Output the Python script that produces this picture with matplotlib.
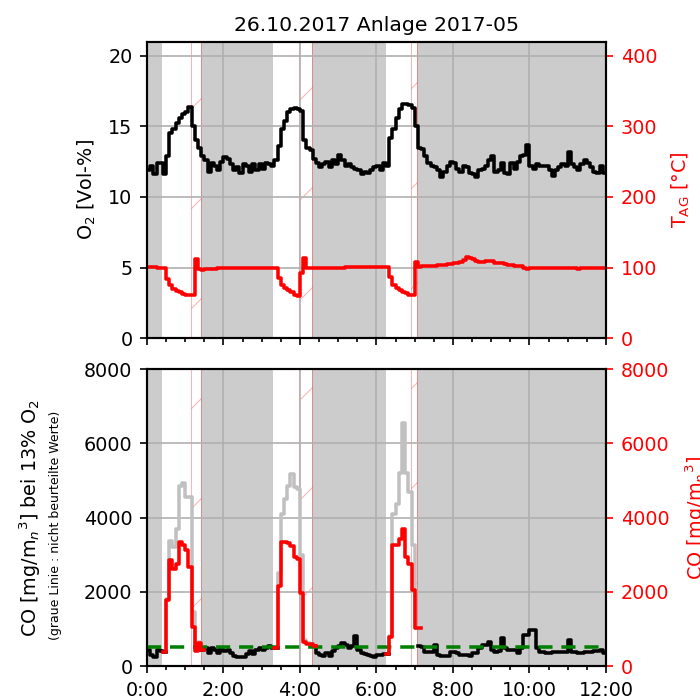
import numpy as np
import matplotlib
matplotlib.use("Agg")
import matplotlib.pyplot as plt
from matplotlib.ticker import MultipleLocator

# The figure is built small at 300 dpi so the sparse hatching matches
DPI = 300
nan = np.nan

TITLE = "26.10.2017 Anlage 2017-05"
STEP_MIN = 5  # sample interval in minutes
HOUR_TICKS = [0, 2, 4, 6, 8, 10, 12]
HOUR_LABELS = ["0:00", "2:00", "4:00", "6:00", "8:00", "10:00", "12:00"]

# operating phases in hours (grey = normal burn, hatched = transition)
BURN_PHASES = [(0.0, 0.40), (1.40, 3.30), (4.31, 6.24), (7.07, 12.0)]
TRANSITION_PHASES = [(1.14, 1.40), (3.97, 4.31), (6.89, 7.07)]
CO_LIMIT = 500

# O2 [Vol-%], one row per hour (5 min samples)
o2 = [
    11.9, 12.2, 11.6, 12.4, 12.4, 11.6, 12.9, 14.5, 14.8, 15.2, 15.6, 15.9,
    16.0, 16.4, 15.0, 14.0, 13.5, 12.9, 12.6, 11.8, 12.4, 12.2, 11.9, 12.5,
    12.8, 12.7, 12.3, 11.9, 12.1, 11.7, 12.3, 12.2, 11.8, 12.3, 11.9, 12.3,
    12.0, 12.4, 12.3, 12.2, 12.6, 13.6, 14.8, 15.4, 16.0, 16.2, 16.3, 16.2,
    16.1, 14.0, 13.5, 13.3, 12.7, 12.4, 12.1, 12.3, 12.5, 12.1, 12.6, 12.3,
    13.0, 12.6, 12.2, 12.3, 12.1, 12.0, 11.9, 11.6, 11.8, 11.7, 11.9, 12.1,
    12.2, 11.9, 12.4, 12.2, 14.2, 14.8, 15.6, 16.2, 16.6, 16.6, 16.5, 16.3,
    15.0, 13.5, 13.4, 12.9, 12.4, 12.2, 12.1, 11.9, 11.4, 11.8, 12.2, 12.5,
    12.4, 12.0, 11.8, 12.2, 12.1, 11.7, 11.6, 11.4, 11.9, 12.0, 12.2, 12.6,
    12.9, 11.8, 11.9, 12.4, 11.7, 11.6, 12.4, 12.0, 12.5, 12.9, 13.0, 13.7,
    12.2, 12.0, 12.3, 12.2, 12.2, 12.2, 11.9, 11.5, 11.9, 12.1, 12.3, 12.2,
    13.2, 12.3, 12.1, 11.9, 12.3, 12.6, 12.4, 12.1, 11.8, 11.7, 12.2, 11.7,
    11.7,
]

# flue gas temperature T_AG [°C]
t_ag = [
    101, 101, 101, 100, 100, 100, 84, 75, 70, 67, 65, 63,
    62, 61, 61, 112, 98, 97, 98, 98, 98, 98, 99, 99,
    99, 99, 99, 100, 100, 100, 100, 100, 100, 100, 100, 100,
    100, 100, 100, 100, 100, 85, 76, 71, 68, 65, 62, 60,
    92, 114, 99, 99, 99, 99, 100, 100, 100, 100, 100, 100,
    100, 100, 101, 101, 101, 101, 101, 101, 101, 101, 101, 101,
    101, 101, 101, 101, 87, 76, 71, 68, 66, 64, 62, 61,
    108, 101, 102, 102, 103, 103, 103, 104, 104, 104, 105, 105,
    106, 106, 108, 111, 115, 114, 112, 109, 108, 108, 109, 110,
    109, 107, 106, 106, 105, 104, 104, 103, 103, 102, 100, 98,
    99, 99, 99, 99, 99, 99, 99, 99, 99, 100, 99, 99,
    99, 99, 99, 98, 99, 99, 99, 99, 99, 99, 100, 100,
    100,
]

# CO at 13% O2 during normal operation (start phases left empty)
co = [
    440, 300, 240, 420, 400, 390, nan, nan, nan, nan, nan, nan,
    nan, nan, nan, nan, nan, 440, 480, 350, 480, 440, 350, 480,
    400, 440, 350, 260, 230, 230, 230, 330, 400, 310, 420, 480,
    440, 480, 530, 480, 480, nan, nan, nan, nan, nan, nan, nan,
    nan, nan, nan, nan, 530, 350, 300, 260, 350, 260, 400, 480,
    530, 620, 570, 480, 530, 800, 440, 350, 310, 300, 280, 250,
    300, 300, 310, 310, nan, nan, nan, nan, nan, nan, nan, nan,
    nan, 530, 520, 390, 390, 390, 570, 300, 260, 260, 260, 390,
    390, 350, 300, 300, 300, 260, 350, 350, 480, 570, 570, 660,
    440, 390, 400, 750, 480, 440, 440, 440, 350, 480, 840, 840,
    970, 970, 480, 390, 390, 350, 350, 390, 390, 390, 390, 390,
    705, 390, 390, 350, 350, 390, 390, 390, 400, 400, 420, 350,
    350,
]

# start phases: first sample index and CO values
start_idx = [5, 40, 75]
co_raw = [  # CO [mg/m3] (right axis, red)
    [390, 1780, 2850, 2620, 2760, 3340, 3250, 3115, 2670, 1064, 395, 617, 440],
    [480, 2150, 3330, 3330, 3300, 3230, 2930, 2890, 1955, 640, 600, 580, 530],
    [310, 790, 3250, 3250, 3430, 3690, 2930, 2750, 2040, 1020, 1020],
]
co_unrated = [  # CO at 13% O2, not assessed (grey)
    [390, 1800, 3380, 3200, 3700, 4850, 4940, 4540, 4540, 1460, 420, 650, 440],
    [480, 2500, 4090, 4500, 4850, 5160, 4810, 4780, 3000, 700, 620, 590, 530],
    [310, 800, 4090, 4360, 5190, 6550, 5200, 4700, 3250, 1020, 1020],
]

n = len(o2)
t = np.arange(n) * STEP_MIN / 60.0
co_red = np.full(n, nan)
co_grey = np.full(n, nan)
for i0, red, grey in zip(start_idx, co_raw, co_unrated):
    co_red[i0:i0 + len(red)] = red
    co_grey[i0:i0 + len(grey)] = grey

plt.rcParams["font.family"] = "DejaVu Sans"
plt.rcParams["font.size"] = 4.6
plt.rcParams["hatch.linewidth"] = 0.25
plt.rcParams["axes.linewidth"] = 0.5

fig = plt.figure(figsize=(700 / DPI, 699 / DPI), dpi=DPI)
ax1 = fig.add_axes([0.21, 0.516, 0.6557, 0.4246])
ax3 = fig.add_axes([0.21, 0.0472, 0.6557, 0.4249])

LW = 0.85


def decorate(ax):
    for a, b in BURN_PHASES:
        ax.axvspan(a, b, color="#cccccc", lw=0, zorder=0.5)
    for a, b in TRANSITION_PHASES:
        ax.axvspan(a, b, facecolor="none", edgecolor=(1, 0, 0, 0.3),
                   hatch="/", lw=0.25, zorder=0.6)
    ax.set_xlim(0, 12)
    ax.set_xticks(HOUR_TICKS)
    ax.xaxis.set_minor_locator(MultipleLocator(0.5))
    ax.grid(True, color="#b0b0b0", lw=0.4)
    ax.tick_params(axis="both", which="major", length=1.7, width=0.4, pad=1.8)
    ax.tick_params(axis="x", which="minor", length=0.85, width=0.4)


# ---- top: O2 and flue gas temperature ----
decorate(ax1)
ax1.step(t, o2, where="post", color="black", lw=LW, zorder=3)
ax1.set_ylim(0, 21)
ax1.set_yticks([0, 5, 10, 15, 20])
ax1.set_xticklabels([])
ax1.set_ylabel("O$_2$ [Vol-%]")
ax1.yaxis.set_label_coords(-0.107, 0.5)
ax1.set_title(TITLE, fontsize=4.9, pad=2.6)

ax2 = ax1.twinx()
ax2.step(t, t_ag, where="post", color="red", lw=LW)
ax2.set_ylim(0, 420)
ax2.set_yticks([0, 100, 200, 300, 400])
ax2.tick_params(axis="y", colors="red", length=1.7, width=0.4, pad=1.8)
ax2.set_ylabel("T$_\\mathrm{AG}$ [°C]", color="red")
ax2.yaxis.set_label_coords(1.139, 0.5)

# ---- bottom: CO ----
decorate(ax3)
ax3.step(t, co_grey, where="post", color="#c0c0c0", lw=LW, zorder=2.5)
ax3.step(t, co, where="post", color="black", lw=LW, zorder=3)
ax3.axhline(CO_LIMIT, color="green", lw=LW, ls=(0, (4, 2.5)), zorder=3.5)
ax3.set_ylim(0, 8000)
ax3.set_yticks([0, 2000, 4000, 6000, 8000])
ax3.set_xticks(HOUR_TICKS)
ax3.set_xticklabels(HOUR_LABELS)
ax3.set_ylabel("CO [mg/m$_n$$^3$] bei 13% O$_2$")
ax3.yaxis.set_label_coords(-0.226, 0.5)
ax3.text(-0.2, 0.475, "(graue Linie : nicht beurteilte Werte)", fontsize=3.0,
         rotation=90, ha="center", va="center", transform=ax3.transAxes)

ax4 = ax3.twinx()
ax4.step(t, co_red, where="post", color="red", lw=LW)
ax4.set_ylim(0, 8000)
ax4.set_yticks([0, 2000, 4000, 6000, 8000])
ax4.tick_params(axis="y", colors="red", length=1.7, width=0.4, pad=1.8)
ax4.set_ylabel("CO [mg/m$_n$$^3$]", color="red")
ax4.yaxis.set_label_coords(1.168, 0.5)

fig.savefig("out.png", dpi=DPI)
